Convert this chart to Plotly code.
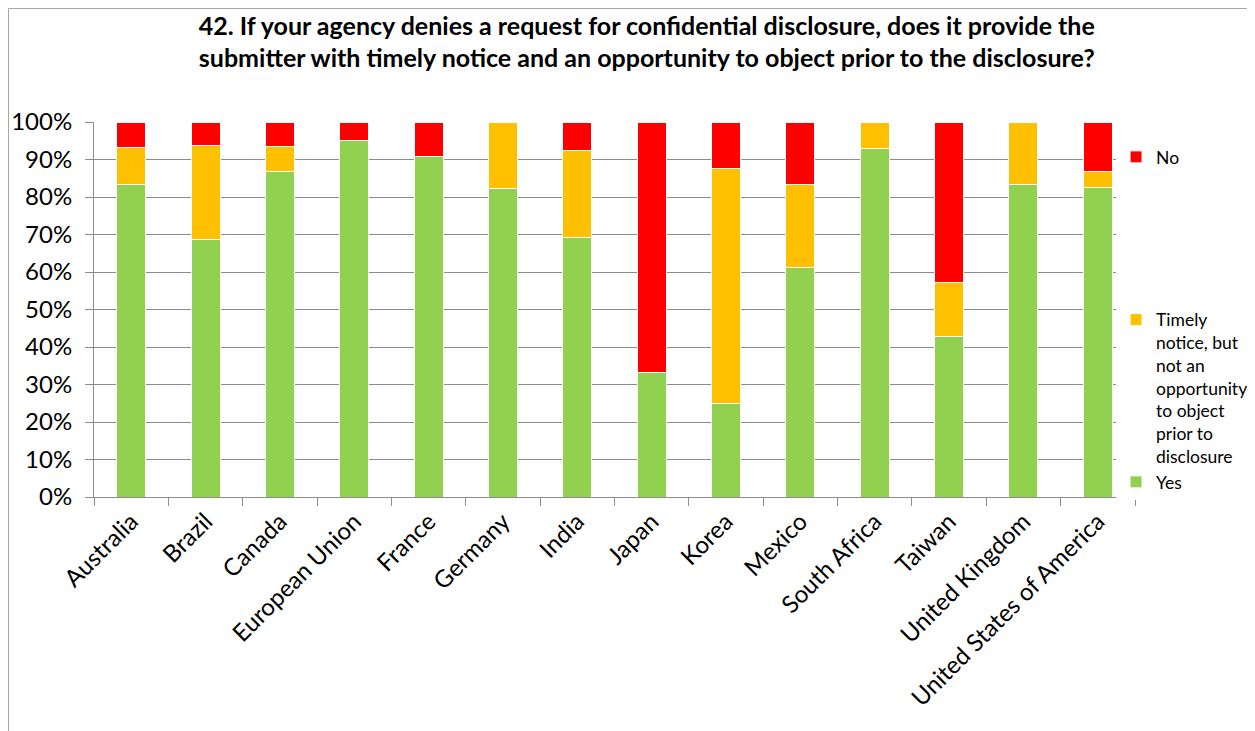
import plotly.graph_objects as go

countries = ["Australia", "Brazil", "Canada", "European Union", "France", "Germany", "India",
             "Japan", "Korea", "Mexico", "South Africa", "Taiwan", "United Kingdom",
             "United States of America"]
yes = [83.3, 68.75, 86.7, 95.0, 90.9, 82.4, 69.2, 33.3, 25.0, 61.1, 92.9, 42.9, 83.3, 82.6]
timely = [10.0, 25.0, 6.7, 0, 0, 17.6, 23.1, 0, 62.5, 22.2, 7.1, 14.3, 16.7, 4.3]
no = [6.7, 6.25, 6.6, 5.0, 9.1, 0, 7.7, 66.7, 12.5, 16.7, 0, 42.8, 0, 13.1]

font = "Lato"
fig = go.Figure()
fig.add_trace(go.Bar(name="Yes", x=countries, y=yes, marker_color="#92D050",
                     legendgroup="b", legendrank=3))
fig.add_trace(go.Bar(name="Timely<br>notice, but<br>not an<br>opportunity<br>to object<br>prior to<br>disclosure",
                     x=countries, y=timely, marker_color="#FFC000", legendgroup="b", legendrank=2))
fig.add_trace(go.Bar(name="No", x=countries, y=no, marker_color="#FF0000",
                     legendgroup="a", legendrank=1))
fig.update_traces(marker_line_color="white", marker_line_width=1, hoverinfo="x+y+name")

# plot area in px: left 86, right 1127, top 114, bottom 489
fig.update_layout(
    barmode="stack",
    bargap=0.61,
    width=1255, height=731,
    margin=dict(l=86, r=128, t=114, b=242, autoexpand=False),
    paper_bgcolor="white", plot_bgcolor="white",
    font=dict(family=font, color="black"),
    title=dict(text="<b>42. If your agency denies a request for confidential disclosure, does it provide the<br>submitter with timely notice and an opportunity to object prior to the disclosure?</b>",
               x=0.509, xanchor="center", y=0.9631, yanchor="middle",
               xref="container", yref="container",
               font=dict(size=25, family=font)),
    legend=dict(xref="container", yref="container", x=0.8829, xanchor="left",
                y=0.8208, yanchor="top",
                traceorder="grouped", tracegroupgap=137, valign="top",
                font=dict(size=17.5, family=font), itemwidth=30),
    shapes=[dict(type="rect", xref="paper", yref="paper", x0=(0.5 - 86) / 1041, x1=1.2,
                 y0=-0.8, y1=(489 - 0.5) / 375, line=dict(color="#A6A6A6", width=1),
                 layer="below")],
)
fig.update_yaxes(range=[0, 100], dtick=10, ticksuffix="%", showgrid=True,
                 gridcolor="#8C8C8C", gridwidth=1, showline=True, linecolor="#8C8C8C",
                 ticks="outside", ticklen=8, tickcolor="#8C8C8C", zeroline=False,
                 ticklabelstandoff=8, automargin=False,
                 tickfont=dict(size=24, family=font))
fig.update_xaxes(tickangle=-45, showline=True, linecolor="#8C8C8C", ticks="outside",
                 tickson="boundaries", ticklen=8, tickcolor="#8C8C8C", automargin=False,
                 tickfont=dict(size=24, family=font))

fig.write_html("out.html")
